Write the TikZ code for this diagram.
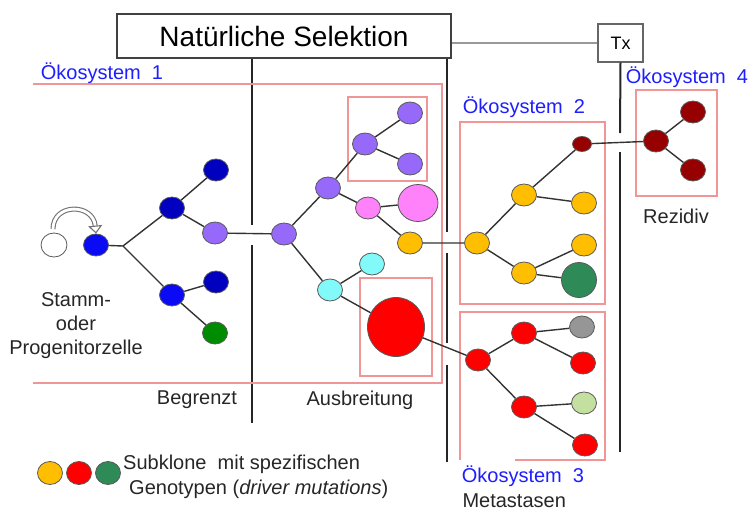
\documentclass[tikz,border=0pt]{standalone}
\usepackage{fontspec}
\setmainfont{Liberation Sans}
\usetikzlibrary{shapes.geometric,arrows.meta}
\definecolor{ecored}{RGB}{240,150,150}
\definecolor{ecoblue}{RGB}{30,30,255}
\definecolor{navyc}{RGB}{0,0,190}
\definecolor{bluec}{RGB}{10,10,245}
\definecolor{purplec}{RGB}{150,105,250}
\definecolor{pinkc}{RGB}{255,130,250}
\definecolor{cyanc}{RGB}{130,250,250}
\definecolor{yellowc}{RGB}{255,190,0}
\definecolor{redc}{RGB}{255,0,0}
\definecolor{greenc}{RGB}{0,140,0}
\definecolor{seagreenc}{RGB}{46,139,87}
\definecolor{darkredc}{RGB}{150,0,0}
\definecolor{grayc}{RGB}{150,150,150}
\definecolor{lightgreenc}{RGB}{196,224,160}
\begin{document}
\begin{tikzpicture}[x=1pt,y=-1pt,
  clone/.style={ellipse,draw=black!65,line width=0.8pt,minimum width=25pt,minimum height=22pt,inner sep=0pt},
  edge/.style={draw=black!80,line width=1.4pt},
  ecobox/.style={draw=ecored,line width=1.2pt},
  barrier/.style={draw=black!85,line width=2pt},
  ecolabel/.style={text=ecoblue,font=\fontsize{20}{24}\selectfont},
  lbl/.style={text=black!85,font=\fontsize{20}{24}\selectfont,align=center}]
\useasboundingbox (0,0) rectangle (750,511);

% Selection and therapy
\node[draw=black!75,line width=1.5pt,minimum width=334pt,minimum height=44pt,font=\fontsize{28}{32}\selectfont] (sel) at (284,36) {Natürliche Selektion};
\node[draw=black!60,line width=1.2pt,minimum width=45pt,minimum height=38pt,font=\fontsize{18}{20}\selectfont] (tx) at (620.5,43) {Tx};
\draw[gray!80,line width=1.2pt] (sel.east |- tx.west) -- (tx.west);

% Barriers
\draw[barrier] (sel.south -| 252,0) -- (252,225);
\draw[barrier] (252,245) -- (252,423);
\draw[barrier] (sel.south -| 447,0) -- (447,232);
\draw[barrier] (447,253) -- (447,343);
\draw[barrier] (447,365) -- (447,462);
\draw[barrier] (tx.south) -- (620,133);
\draw[barrier] (620,152) -- (620,452);

% Ecosystems
\draw[ecobox] (33,84) -- (442,84) -- (442,383) -- (33,383);
\draw[ecobox] (348,97) rectangle (427,181);
\draw[ecobox] (360,278) rectangle (432,376);
\draw[ecobox] (460,122) rectangle (605,304);
\draw[ecobox] (515,460) -- (605,460) -- (605,312) -- (460,312) -- (460,460);
\draw[ecobox] (636,90) rectangle (717,196);
\node[ecolabel] (eco1) at (102,73) {Ökosystem\ \ 1};
\node[ecolabel] (eco2) at (524,107) {Ökosystem\ \ 2};
\node[ecolabel] (eco3) at (523,476) {Ökosystem\ \ 3};
\node[ecolabel] (eco4) at (687,77) {Ökosystem\ \ 4};

% Stem cell and first clones
\node[clone,fill=white,minimum width=26pt,minimum height=24pt] (stem) at (54,245) {};
\node[clone,fill=bluec] (p0) at (96,245) {};
\coordinate (j0) at (123,246);
\node[clone,fill=navyc] (b1) at (172,208) {};
\node[clone,fill=navyc] (b2) at (216,170) {};
\node[clone,fill=purplec] (v1) at (215,233) {};
\node[clone,fill=bluec] (b3) at (172,295) {};
\node[clone,fill=navyc] (b4) at (216,282) {};
\node[clone,fill=greenc] (g1) at (215,333) {};

% Expansion
\node[clone,fill=purplec] (v2) at (284,234) {};
\node[clone,fill=purplec] (v3) at (328,188) {};
\node[clone,fill=purplec] (v4) at (365,144) {};
\node[clone,fill=purplec] (v5) at (410,113) {};
\node[clone,fill=purplec] (v6) at (410,164) {};
\node[clone,fill=pinkc] (k1) at (368,208) {};
\node[clone,fill=pinkc,minimum width=40pt,minimum height=37pt] (k2) at (418,203) {};
\node[clone,fill=yellowc] (y1) at (410,243) {};
\node[clone,fill=cyanc] (c1) at (330,290) {};
\node[clone,fill=cyanc] (c2) at (372,264) {};
\node[clone,fill=redc,minimum width=57pt,minimum height=59pt] (r1) at (396,327) {};

% Ecosystem 2
\node[clone,fill=yellowc] (y2) at (477,243) {};
\node[clone,fill=yellowc] (y3) at (524,195) {};
\node[clone,fill=yellowc] (y4) at (524,273) {};
\node[clone,fill=darkredc,minimum width=19pt,minimum height=15pt] (d1) at (582,144) {};
\node[clone,fill=yellowc] (y5) at (584,203) {};
\node[clone,fill=yellowc] (y6) at (584,245) {};
\node[clone,fill=seagreenc,minimum width=35pt,minimum height=35pt] (gr) at (579,280) {};

% Ecosystem 4
\node[clone,fill=darkredc] (d2) at (656,141) {};
\node[clone,fill=darkredc] (d3) at (693,112) {};
\node[clone,fill=darkredc] (d4) at (693,170) {};

% Ecosystem 3
\node[clone,fill=redc] (r2) at (478,360) {};
\node[clone,fill=redc] (r3) at (524,333) {};
\node[clone,fill=redc] (r4) at (524,407) {};
\node[clone,fill=grayc] (gy) at (582,327) {};
\node[clone,fill=redc] (r5) at (583,363) {};
\node[clone,fill=lightgreenc] (lg) at (584,403) {};
\node[clone,fill=redc] (r6) at (585,445) {};

% Lineages
\draw[edge] (p0) -- (j0) -- (b1) -- (b2);
\draw[edge] (j0) -- (b3) -- (b4);
\draw[edge] (b1) -- (v1) -- (v2) -- (v3) -- (v4) -- (v5);
\draw[edge] (b3) -- (g1);
\draw[edge] (v4) -- (v6);
\draw[edge] (v3) -- (k1) -- (k2);
\draw[edge] (k1) -- (y1) -- (y2) -- (y3) -- (d1) -- (d2) -- (d3);
\draw[edge] (d2) -- (d4);
\draw[edge] (y3) -- (y5);
\draw[edge] (y2) -- (y4) -- (y6);
\draw[edge] (y4) -- (gr);
\draw[edge] (v2) -- (c1) -- (c2);
\draw[edge] (c1) -- (r1) -- (r2) -- (r3) -- (gy);
\draw[edge] (r3) -- (r5);
\draw[edge] (r2) -- (r4) -- (lg);
\draw[edge] (r4) -- (r6);

% Self-renewal
\coordinate (selfout) at (53,229);
\draw[draw=black!55,double=white,double distance=2.8pt,line width=1.1pt,-{Triangle[open,length=8pt,width=14pt]}]
  (selfout) .. controls (53,203) and (93,203) .. (p0.north);

% Labels
\node[lbl] (stammlbl) at (76,326) {Stamm-\\oder\\Progenitorzelle};
\node[lbl] (begrenzt) at (197,400) {Begrenzt};
\node[lbl] (ausbr) at (360,400) {Ausbreitung};
\node[lbl] (rezidiv) at (676,216) {Rezidiv};
\node[lbl,anchor=west] (metast) at (459,501) {Metastasen};

% Legend
\node[clone,fill=yellowc,minimum height=23pt] (key1) at (50,473) {};
\node[clone,fill=redc,minimum height=23pt] (key2) at (79,473) {};
\node[clone,fill=seagreenc,minimum height=23pt] (key3) at (108,473) {};
\node[lbl,anchor=west,inner sep=0pt] (keytxt1) at (123,464) {Subklone\ \ mit spezifischen};
\node[lbl,anchor=west,inner sep=0pt] (keytxt2) at (129,489) {Genotypen (\textit{driver mutations})};
\end{tikzpicture}
\end{document}
